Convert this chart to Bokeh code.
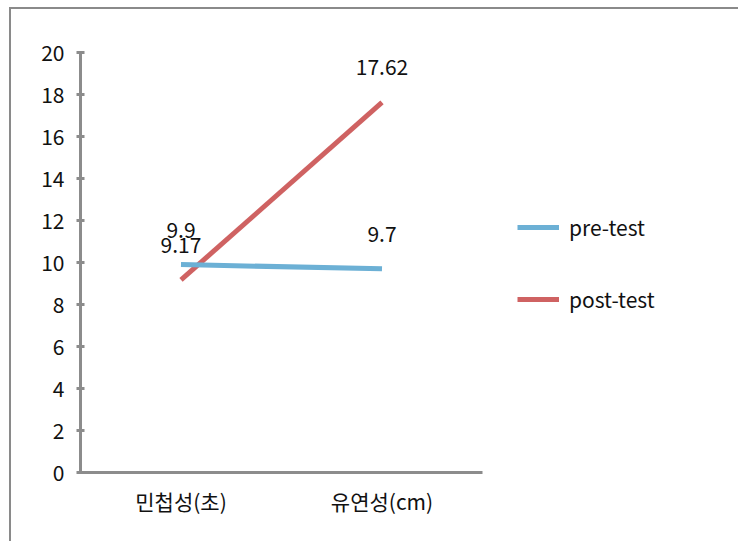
from bokeh.plotting import figure
from bokeh.models import ColumnDataSource, LabelSet, Legend, LegendItem, FactorRange
from bokeh.core.properties import value
from bokeh.embed import file_html
from bokeh.resources import INLINE

categories = ["민첩성(초)", "유연성(cm)"]
pre_test = [9.9, 9.7]
post_test = [9.17, 17.62]
pre_labels = ["9.9", "9.7"]
post_labels = ["9.17", "17.62"]
y_ticks = [0, 2, 4, 6, 8, 10, 12, 14, 16, 18, 20]

FONT = "'Noto Sans CJK KR', 'Noto Sans', sans-serif"
FS = "21px"
BLUE = "#6CB0D5"
RED = "#CF6262"
AXIS = "#8C8C8C"

p = figure(frame_width=402, frame_height=420, x_range=FactorRange(*categories), y_range=(0, 20),
           output_backend="svg", toolbar_location=None,
           min_border_left=69, min_border_right=260, min_border_top=43, min_border_bottom=69)
p.margin = (7, 0, 0, 9)
p.styles = {"border-top": "2px solid #8a8a8a", "border-left": "2px solid #8a8a8a"}
p.outline_line_color = None
p.xgrid.visible = False
p.ygrid.visible = False

pre_src = ColumnDataSource(dict(x=categories, y=pre_test, t=pre_labels))
post_src = ColumnDataSource(dict(x=categories, y=post_test, t=post_labels))

r_post = p.line("x", "y", source=post_src, line_color=RED, line_width=5, line_cap="butt")
r_pre = p.line("x", "y", source=pre_src, line_color=BLUE, line_width=5, line_cap="butt")

for src in (pre_src, post_src):
    p.add_layout(LabelSet(x="x", y="y", text="t", source=src, y_offset=35,
                          text_align="center", text_baseline="middle",
                          text_font=value(FONT), text_font_size=FS, text_color="#111111"))

p.yaxis.ticker = y_ticks
for ax in (p.xaxis, p.yaxis):
    ax.axis_line_color = AXIS
    ax.axis_line_width = 3
    ax.major_label_text_font = FONT
    ax.major_label_text_font_size = FS
    ax.major_label_text_color = "#111111"
    ax.minor_tick_line_color = None
p.yaxis.major_tick_in = 4
p.yaxis.major_tick_out = 4
p.yaxis.major_tick_line_color = AXIS
p.yaxis.major_tick_line_width = 3
p.yaxis.major_label_standoff = 12
p.xaxis.major_tick_line_color = None
p.xaxis.major_label_standoff = 7

legend = Legend(items=[LegendItem(label="pre-test", renderers=[r_pre]),
                       LegendItem(label="post-test", renderers=[r_post])],
                location=(35, 158), orientation="vertical",
                glyph_width=42, glyph_height=20, spacing=42, label_standoff=10,
                label_height=20,
                label_text_font=FONT, label_text_font_size=FS, label_text_color="#111111",
                label_text_baseline="bottom",
                border_line_color=None, background_fill_alpha=0, padding=0, margin=0)
p.add_layout(legend, "right")

open("out.html", "w").write(file_html(p, INLINE))
